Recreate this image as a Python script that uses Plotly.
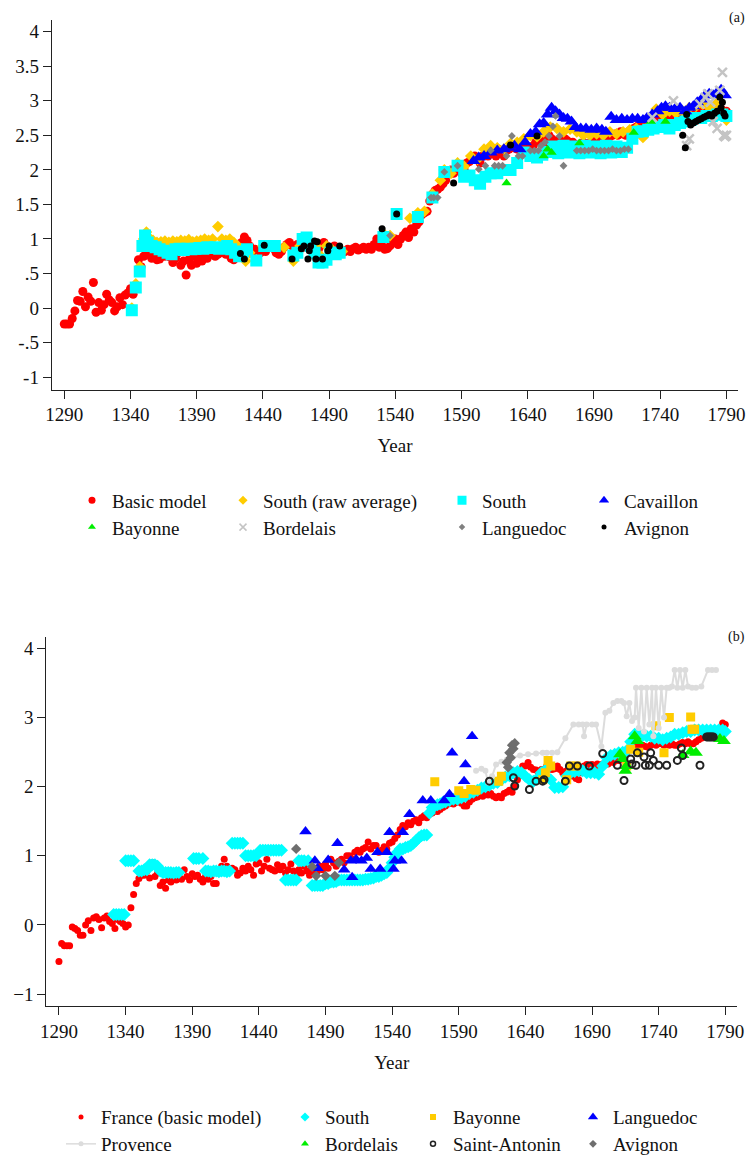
import plotly.graph_objects as go

FONT = "Liberation Serif, Times New Roman, serif"
W, H = 751, 1163
TXT = "#111111"

# ======================= Panel (a) data =======================
basic_a_start = 1290  # one value every 2 years
basic_a_vals = [
    -0.23, -0.23, -0.23, -0.15, -0.04,
    0.11, 0.10, 0.24, 0.02, 0.16,
    0.10, 0.37, -0.06, 0.08, -0.03,
    0.05, 0.20, 0.12, 0.08, -0.04,
    0.02, 0.15, 0.05, 0.19, 0.22,
    0.28, 0.20, 0.30, 0.70, 0.60,
    0.75, 0.78, 0.80, 0.72, 0.76,
    0.70, 0.71, 0.80, 0.75, 0.78,
    0.74, 0.66, 0.72, 0.80, 0.62,
    0.68, 0.48, 0.70, 0.62, 0.75,
    0.65, 0.72, 0.68, 0.75, 0.72,
    0.78, 0.80, 0.75, 0.78, 0.80,
    0.82, 0.78, 0.80, 0.72, 0.70,
    0.78, 0.85, 0.95, 1.03, 0.98,
    0.90, 0.82, 0.85, 0.78, 0.80,
    0.85, 0.82, 0.88, 0.90, 0.86,
    0.80, 0.78, 0.82, 0.88, 0.92,
    0.95, 0.90, 0.88, 0.92, 0.85,
    0.90, 0.88, 0.92, 0.86, 0.84,
    0.88, 0.85, 0.92, 0.95, 0.90,
    0.88, 0.85, 0.90, 0.82, 0.85,
    0.80, 0.82, 0.85, 0.82, 0.86,
    0.88, 0.84, 0.86, 0.88, 0.85,
    0.88, 0.85, 0.92, 1.00, 0.88,
    0.90, 0.85, 0.86, 0.90, 0.95,
    1.00, 0.92, 1.00, 1.05, 1.10,
    1.02, 1.15, 1.10, 1.20, 1.25,
    1.35, 1.38, 1.40, 1.55, 1.65,
    1.70, 1.72, 1.75, 1.80, 1.85,
    1.95, 2.00, 1.95, 2.00, 2.05,
    1.95, 2.00, 2.10, 2.12, 2.15,
    2.20, 2.15, 2.10, 2.20, 2.25,
    2.20, 2.30, 2.25, 2.20, 2.30,
    2.25, 2.20, 2.28, 2.30, 2.35,
    2.32, 2.30, 2.30, 2.38, 2.35,
    2.30, 2.28, 2.35, 2.40, 2.42,
    2.40, 2.38, 2.45, 2.50, 2.45,
    2.40, 2.42, 2.38, 2.40, 2.45,
    2.42, 2.38, 2.40, 2.36, 2.35,
    2.38, 2.40, 2.35, 2.38, 2.40,
    2.42, 2.45, 2.42, 2.40, 2.45,
    2.50, 2.48, 2.50, 2.52, 2.50,
    2.55, 2.52, 2.50, 2.55, 2.58,
    2.60, 2.62, 2.65, 2.70, 2.72,
    2.68, 2.70, 2.72, 2.75, 2.70,
    2.72, 2.75, 2.78, 2.75, 2.72,
    2.75, 2.78, 2.80, 2.78, 2.75,
    2.72, 2.75, 2.78, 2.80, 2.78,
    2.82, 2.85, 2.88, 2.85, 2.82,
    2.85, 2.88, 2.90, 2.88, 2.85,
    2.85,
]

south_raw_a = [
    (1341, 0.00), (1344, 0.35), (1347, 0.60), (1350, 1.00), (1352, 1.10), (1354, 1.02),
    (1357, 0.98), (1360, 0.95), (1363, 0.96), (1366, 0.97), (1369, 0.95), (1372, 0.97),
    (1375, 0.96), (1378, 0.98), (1381, 0.97), (1384, 0.99), (1387, 0.96), (1390, 0.97),
    (1393, 0.98), (1396, 1.00), (1399, 0.98), (1402, 1.00), (1406, 1.18), (1409, 1.00),
    (1412, 0.98), (1415, 1.00), (1418, 0.95), (1421, 0.90), (1424, 0.85), (1427, 0.68),
    (1430, 0.80), (1435, 0.70), (1440, 0.90), (1449, 0.90), (1456, 0.88), (1463, 0.68),
    (1468, 0.90), (1471, 1.00), (1475, 0.95), (1480, 0.90), (1484, 0.75), (1488, 0.90),
    (1492, 0.85), (1496, 0.80), (1500, 0.82), (1531, 1.08), (1536, 1.05), (1541, 1.36),
    (1551, 1.30), (1557, 1.38), (1562, 1.40), (1568, 1.65), (1574, 1.85), (1577, 2.00),
    (1582, 1.95), (1587, 2.10), (1592, 2.05), (1597, 2.20), (1602, 2.15), (1607, 2.30),
    (1612, 2.35), (1617, 2.32), (1622, 2.30), (1627, 2.38), (1632, 2.40), (1637, 2.45),
    (1642, 2.50), (1647, 2.48), (1652, 2.55), (1657, 2.62), (1662, 2.60), (1667, 2.55),
    (1672, 2.59), (1677, 2.55), (1682, 2.50), (1687, 2.50), (1692, 2.52), (1697, 2.50),
    (1702, 2.55), (1707, 2.52), (1712, 2.55), (1717, 2.58), (1722, 2.60), (1727, 2.47),
    (1732, 2.70), (1737, 2.88), (1742, 2.80), (1747, 2.85), (1752, 2.82), (1757, 2.85),
    (1762, 2.90), (1767, 2.92), (1772, 2.95), (1777, 2.90), (1782, 2.95), (1787, 2.85),
    (1790, 2.72),
]

south_a = [
    (1341, -0.03), (1344, 0.30), (1347, 0.53), (1349, 0.90), (1351, 1.05), (1353, 0.95),
    (1356, 0.90), (1359, 0.88), (1362, 0.85), (1365, 0.83), (1368, 0.80), (1371, 0.78),
    (1374, 0.85), (1377, 0.86), (1380, 0.84), (1383, 0.86), (1386, 0.85), (1389, 0.86),
    (1392, 0.87), (1395, 0.86), (1398, 0.88), (1401, 0.87), (1404, 0.88), (1407, 0.86),
    (1410, 0.87), (1413, 0.90), (1416, 0.85), (1419, 0.80), (1422, 0.75), (1425, 0.82),
    (1428, 0.85), (1435, 0.69), (1441, 0.90), (1449, 0.90), (1463, 0.76), (1466, 0.80),
    (1470, 1.00), (1473, 1.02), (1476, 0.90), (1479, 0.80), (1482, 0.66), (1485, 0.66),
    (1488, 0.70), (1491, 0.80), (1495, 0.78), (1498, 0.80), (1531, 1.03), (1541, 1.36),
    (1557, 1.32), (1568, 1.60), (1577, 1.97), (1587, 2.06), (1592, 1.90), (1596, 1.92),
    (1600, 1.85), (1604, 1.80), (1608, 1.90), (1612, 1.95), (1617, 1.95), (1622, 2.00),
    (1627, 2.00), (1632, 2.10), (1637, 2.25), (1642, 2.20), (1647, 2.18), (1651, 2.22),
    (1655, 2.26), (1659, 2.34), (1663, 2.24), (1667, 2.35), (1671, 2.25), (1675, 2.34),
    (1679, 2.24), (1683, 2.35), (1687, 2.25), (1691, 2.34), (1695, 2.24), (1699, 2.35),
    (1703, 2.25), (1707, 2.34), (1711, 2.26), (1715, 2.32), (1719, 2.45), (1723, 2.55),
    (1727, 2.56), (1731, 2.58), (1735, 2.60), (1739, 2.62), (1743, 2.65), (1747, 2.60),
    (1751, 2.65), (1755, 2.68), (1759, 2.70), (1763, 2.72), (1767, 2.75), (1771, 2.75),
    (1775, 2.78), (1779, 2.78), (1783, 2.80), (1787, 2.80), (1790, 2.78),
]

cavaillon_a = [
    (1599, 2.13), (1603, 2.18), (1607, 2.20), (1612, 2.25), (1617, 2.28), (1622, 2.30),
    (1626, 2.32), (1630, 2.35), (1634, 2.30), (1638, 2.40), (1642, 2.52), (1646, 2.55),
    (1649, 2.66), (1652, 2.68), (1655, 2.80), (1658, 2.90), (1661, 2.85), (1664, 2.80),
    (1667, 2.75), (1670, 2.74), (1673, 2.70), (1676, 2.62), (1680, 2.60), (1684, 2.60),
    (1688, 2.58), (1692, 2.60), (1696, 2.58), (1699, 2.55), (1703, 2.77), (1707, 2.72),
    (1711, 2.74), (1715, 2.72), (1719, 2.74), (1723, 2.74), (1727, 2.72), (1730, 2.75),
    (1734, 2.80), (1738, 2.85), (1741, 2.90), (1744, 2.92), (1747, 2.90), (1751, 2.88),
    (1755, 2.90), (1759, 2.85), (1762, 2.90), (1765, 2.92), (1768, 2.98), (1771, 3.02),
    (1774, 3.08), (1777, 3.10), (1780, 3.08), (1783, 3.12), (1786, 3.16), (1789, 3.08),
]

bayonne_a = [
    (1624, 1.81), (1652, 2.20), (1655, 2.30), (1658, 2.25), (1679, 2.39),
    (1720, 2.54), (1733, 2.70), (1744, 2.70),
]

bordelais_a = [
    (1734, 2.76), (1750, 3.00), (1760, 2.35), (1762, 2.45), (1770, 2.95), (1774, 3.05),
    (1776, 3.10), (1778, 2.98), (1780, 2.70), (1783, 2.60), (1785, 3.15), (1787, 3.41),
    (1788, 2.50), (1789, 2.48), (1790, 2.50),
]

languedoc_a = [
    (1536, 1.05), (1567, 1.60), (1569, 1.60), (1572, 1.60), (1577, 1.97), (1587, 2.06),
    (1603, 2.01), (1608, 2.06), (1612, 2.28), (1615, 2.06), (1618, 2.06), (1621, 2.06),
    (1624, 2.20), (1628, 2.49), (1633, 2.20), (1636, 2.20), (1642, 2.28), (1645, 2.28),
    (1648, 2.28), (1650, 2.35), (1653, 2.40), (1656, 2.49), (1659, 2.63), (1661, 2.78),
    (1664, 2.49), (1667, 2.06), (1677, 2.28), (1680, 2.28), (1683, 2.28), (1686, 2.28),
    (1689, 2.30), (1692, 2.28), (1695, 2.28), (1698, 2.28), (1701, 2.28), (1704, 2.30),
    (1707, 2.28), (1710, 2.28), (1713, 2.30), (1716, 2.30),
]

avignon_a = [
    (1423, 0.79), (1426, 0.71), (1441, 0.91), (1462, 0.71), (1469, 0.86), (1471, 0.90),
    (1474, 0.71), (1475, 0.83), (1476, 0.90), (1479, 0.97), (1480, 0.71), (1481, 0.96),
    (1485, 0.71), (1489, 0.83), (1490, 0.90), (1498, 0.90), (1530, 1.15), (1541, 1.36),
    (1584, 1.81), (1627, 2.36), (1647, 2.49), (1757, 2.50), (1759, 2.32), (1760, 2.80),
    (1761, 2.70), (1763, 2.65), (1765, 2.68), (1767, 2.70), (1769, 2.72), (1771, 2.74),
    (1773, 2.76), (1775, 2.78), (1777, 2.80), (1779, 2.78), (1781, 2.82), (1783, 2.85),
    (1785, 3.05), (1786, 2.90), (1787, 2.98), (1788, 2.82), (1789, 2.78),
]

# ======================= Panel (b) data =======================
france_b_start = 1290  # one value every 2 years
france_b_vals = [
    -0.53, -0.27, -0.30, -0.30, -0.30,
    -0.03, -0.05, -0.08, -0.15, -0.15,
    0.00, 0.06, -0.08, 0.10, 0.12,
    0.08, -0.04, 0.10, 0.13, 0.05,
    0.02, -0.05, 0.08, 0.05, 0.02,
    -0.03, 0.00, 0.25, 0.44, 0.60,
    0.67, 0.72, 0.72, 0.78, 0.68,
    0.90, 0.70, 0.75, 0.57, 0.62,
    0.53, 0.65, 0.62, 0.70, 0.65,
    0.72, 0.66, 0.80, 0.70, 0.65,
    0.74, 0.70, 0.72, 0.66, 0.62,
    0.70, 0.66, 0.70, 0.60, 0.60,
    0.75, 0.85, 0.95, 0.85, 0.78,
    0.82, 0.80, 0.72, 0.75, 0.82,
    0.78, 0.85, 0.80, 0.72, 0.88,
    0.90, 0.78, 0.85, 0.95, 0.82,
    0.80, 0.78, 0.87, 0.80, 0.85,
    0.75, 0.80, 0.88, 0.78, 0.72,
    0.80, 0.75, 0.85, 0.78, 0.72,
    0.75, 0.82, 0.78, 0.85, 0.80,
    0.88, 0.82, 0.95, 0.90, 0.85,
    0.92, 0.95, 0.90, 1.00, 1.00,
    0.95, 1.05, 1.08, 1.05, 1.10,
    1.12, 1.20, 1.10, 1.15, 1.15,
    1.05, 1.08, 1.13, 1.10, 1.18,
    1.20, 1.25, 1.30, 1.38, 1.44,
    1.42, 1.48, 1.45, 1.50, 1.52,
    1.48, 1.55, 1.58, 1.55, 1.60,
    1.62, 1.65, 1.64, 1.67, 1.70,
    1.72, 1.75, 1.78, 1.75, 1.77,
    1.80, 1.76, 1.72, 1.72, 1.78,
    1.82, 1.84, 1.85, 1.88, 1.86,
    1.90, 1.88, 1.90, 1.86, 1.84,
    1.86, 1.84, 1.90, 1.92, 1.95,
    1.92, 2.00, 2.10, 2.16, 2.30,
    2.30, 2.35, 2.28, 2.25, 2.24,
    2.20, 2.25, 2.22, 2.30, 2.28,
    2.25, 2.26, 2.30, 2.25, 2.20,
    2.22, 2.25, 2.20, 2.15, 2.12,
    2.10, 2.20, 2.30, 2.32, 2.30,
    2.32, 2.30, 2.33, 2.30, 2.33,
    2.35, 2.33, 2.36, 2.35, 2.38,
    2.38, 2.40, 2.45, 2.50, 2.55,
    2.58, 2.62, 2.60, 2.58, 2.60,
    2.58, 2.57, 2.60, 2.62, 2.60,
    2.62, 2.62, 2.60, 2.62, 2.60,
    2.62, 2.60, 2.60, 2.62, 2.64,
    2.62, 2.65, 2.62, 2.62, 2.65,
    2.68, 2.70, 2.72, 2.72, 2.75,
    2.75, 2.78, 2.80, 2.82, 2.92,
    2.90,
]

south_b = [
    (1331, 0.15), (1333, 0.15), (1335, 0.15), (1337, 0.15), (1339, 0.15),
    (1340, 0.93), (1342, 0.93), (1344, 0.93), (1346, 0.93),
    (1350, 0.78), (1352, 0.78), (1354, 0.80), (1356, 0.80),
    (1358, 0.87), (1360, 0.87), (1362, 0.87), (1364, 0.85),
    (1366, 0.78), (1368, 0.76), (1370, 0.76), (1372, 0.76), (1374, 0.76), (1376, 0.75),
    (1378, 0.76), (1380, 0.76),
    (1391, 0.96), (1393, 0.96), (1395, 0.96), (1398, 0.96),
    (1400, 0.78), (1402, 0.78), (1404, 0.77), (1406, 0.78), (1408, 0.78), (1410, 0.77),
    (1412, 0.78), (1414, 0.78), (1416, 0.77), (1418, 0.78),
    (1420, 1.18), (1422, 1.18), (1424, 1.18), (1426, 1.18), (1428, 1.18),
    (1430, 1.00), (1432, 1.00), (1434, 1.00), (1436, 1.00), (1438, 1.00),
    (1441, 1.08), (1443, 1.08), (1445, 1.08), (1447, 1.08), (1449, 1.08), (1451, 1.08),
    (1453, 1.08), (1455, 1.08), (1457, 1.08),
    (1460, 0.65), (1462, 0.65), (1464, 0.65), (1466, 0.65), (1468, 0.65),
    (1470, 0.93), (1472, 0.93), (1474, 0.93), (1477, 0.93),
    (1480, 0.57), (1482, 0.57), (1484, 0.57), (1486, 0.57), (1488, 0.57),
    (1490, 0.60), (1492, 0.60), (1494, 0.62), (1496, 0.62), (1498, 0.63), (1500, 0.65),
    (1502, 0.65), (1504, 0.65), (1506, 0.65), (1508, 0.65), (1510, 0.65), (1512, 0.65),
    (1514, 0.65), (1516, 0.65), (1518, 0.65), (1520, 0.66), (1522, 0.66), (1524, 0.67),
    (1526, 0.68), (1528, 0.70),
    (1530, 0.70), (1532, 0.72), (1534, 0.74), (1536, 0.76), (1538, 0.82), (1540, 0.90),
    (1542, 0.98), (1544, 1.05), (1546, 1.10), (1548, 1.10), (1550, 1.12), (1552, 1.13),
    (1554, 1.15), (1556, 1.18), (1558, 1.22), (1560, 1.26), (1562, 1.29), (1564, 1.30),
    (1566, 1.30),
    (1568, 1.62), (1570, 1.70), (1572, 1.72), (1574, 1.74), (1576, 1.75), (1578, 1.77),
    (1580, 1.78),
    (1583, 1.80), (1586, 1.82), (1589, 1.82), (1592, 1.84), (1595, 1.86), (1598, 1.90),
    (1601, 1.92), (1604, 1.95), (1607, 1.98), (1610, 2.00),
    (1613, 2.02), (1616, 2.05), (1619, 2.06), (1622, 2.10), (1625, 2.14), (1628, 2.16),
    (1631, 2.20), (1634, 2.22),
    (1637, 2.20), (1640, 2.15), (1643, 2.10), (1646, 2.08), (1649, 2.12), (1652, 2.20),
    (1656, 2.26), (1659, 2.10), (1662, 1.99), (1665, 1.99), (1668, 2.00), (1671, 2.15),
    (1674, 2.20), (1677, 2.22), (1680, 2.23), (1683, 2.23), (1686, 2.20), (1689, 2.20),
    (1692, 2.20), (1695, 2.18), (1698, 2.30),
    (1701, 2.42), (1704, 2.45), (1707, 2.47), (1710, 2.49), (1713, 2.50), (1716, 2.52),
    (1719, 2.65), (1722, 2.76), (1725, 2.75), (1728, 2.74), (1731, 2.73), (1734, 2.73),
    (1737, 2.70), (1740, 2.70), (1743, 2.68), (1746, 2.70), (1749, 2.72), (1752, 2.76),
    (1755, 2.76), (1758, 2.78), (1761, 2.80), (1764, 2.80), (1767, 2.82), (1770, 2.82),
    (1773, 2.82), (1776, 2.82), (1779, 2.82), (1782, 2.82), (1785, 2.82), (1788, 2.82),
    (1790, 2.80),
]

bayonne_b = [
    (1572, 2.07), (1590, 1.94), (1594, 1.90), (1599, 1.96), (1603, 1.95), (1620, 2.08),
    (1622, 2.15), (1653, 2.10), (1655, 2.20), (1657, 2.38), (1659, 2.30), (1671, 2.10),
    (1674, 2.30), (1678, 2.30), (1716, 2.30), (1719, 2.54), (1725, 2.50), (1738, 2.88),
    (1744, 2.49), (1748, 3.00), (1764, 3.01), (1765, 2.83), (1767, 2.83),
]

languedoc_b = [
    (1475, 1.35), (1482, 0.93), (1484, 0.82), (1492, 0.94), (1499, 1.18), (1504, 0.80),
    (1509, 0.93), (1510, 0.69), (1513, 0.95), (1517, 0.93), (1521, 0.97), (1524, 0.81),
    (1529, 1.05), (1531, 0.81), (1536, 1.05), (1538, 1.34), (1541, 0.81), (1542, 0.93),
    (1547, 0.93), (1548, 1.34), (1553, 1.60), (1563, 1.80), (1569, 1.80), (1579, 1.80),
    (1583, 1.89), (1585, 2.49), (1594, 2.08), (1595, 2.32), (1600, 2.73),
]

provence_b = [
    (1603, 2.23), (1607, 2.26), (1610, 2.23), (1612, 2.06), (1615, 2.15), (1618, 2.32),
    (1622, 2.36), (1626, 2.39), (1630, 2.42), (1636, 2.45), (1642, 2.47), (1648, 2.48),
    (1653, 2.49), (1656, 2.49), (1660, 2.49), (1664, 2.50), (1670, 2.70), (1676, 2.90),
    (1680, 2.90), (1683, 2.90), (1684, 2.73), (1686, 2.90), (1690, 2.90), (1693, 2.90),
    (1697, 2.58), (1700, 3.07), (1703, 3.10), (1706, 3.21), (1709, 3.24), (1712, 3.24),
    (1714, 3.21), (1716, 3.02), (1718, 3.21), (1720, 2.95), (1722, 3.00), (1723, 3.43),
    (1725, 2.85), (1727, 3.43), (1729, 2.80), (1731, 3.43), (1733, 2.90), (1735, 3.43),
    (1736, 2.73), (1738, 3.43), (1740, 2.85), (1742, 3.43), (1744, 3.00), (1746, 3.43),
    (1748, 3.43), (1750, 3.45), (1752, 3.69), (1754, 3.43), (1756, 3.69), (1758, 3.43),
    (1760, 3.69), (1762, 3.45), (1765, 3.43), (1768, 3.43), (1772, 3.45), (1777, 3.69),
    (1780, 3.69), (1783, 3.69),
]

bordelais_b = [
    (1711, 2.47), (1713, 2.40), (1715, 2.23), (1716, 2.30), (1722, 2.73), (1724, 2.66),
    (1758, 2.46), (1764, 2.51), (1768, 2.49), (1786, 2.69), (1789, 2.66),
]

saint_antonin_b = [
    (1613, 2.08), (1631, 2.13), (1632, 2.01), (1643, 1.96), (1648, 2.08), (1653, 2.08),
    (1654, 2.10), (1670, 2.08), (1673, 2.30), (1679, 2.30), (1688, 2.30), (1698, 2.48),
    (1709, 2.31), (1714, 2.09), (1719, 2.40), (1720, 2.33), (1723, 2.31), (1724, 2.49),
    (1729, 2.43), (1730, 2.31), (1733, 2.31), (1734, 2.49), (1736, 2.38), (1740, 2.31),
    (1746, 2.31), (1754, 2.38), (1757, 2.56), (1758, 2.45), (1771, 2.31), (1776, 2.72),
    (1777, 2.72), (1778, 2.72), (1779, 2.72), (1780, 2.72), (1781, 2.72),
]

avignon_b = [
    (1468, 1.10), (1480, 0.84), (1483, 0.71), (1490, 0.71), (1497, 0.71), (1500, 0.90),
    (1626, 2.35), (1627, 2.28), (1628, 2.49), (1629, 2.42), (1630, 2.60), (1631, 2.55),
    (1632, 2.63),
]

# ======================= helpers =======================
def xs(pairs):
    return [p[0] for p in pairs]


def ys(pairs):
    return [p[1] for p in pairs]


def yearly(start, vals):
    return list(range(start, start + 2 * len(vals), 2))


def fx(px):          # page pixel -> paper x
    return px / W


def fy(py):          # page pixel -> paper y
    return 1 - py / H


fig = go.Figure()


def add(x, y, ax, color, symbol, size, mode="markers", line=None, mline=None):
    kw = dict(x=x, y=y, mode=mode, showlegend=False, hoverinfo="skip",
              xaxis="x" if ax == 1 else "x2", yaxis="y" if ax == 1 else "y2")
    mk = dict(color=color, symbol=symbol, size=size)
    if mline:
        mk["line"] = mline
    kw["marker"] = mk
    if line:
        kw["line"] = line
    fig.add_trace(go.Scatter(**kw))


# ---- panel (a) marks
add(yearly(basic_a_start, basic_a_vals), basic_a_vals, 1, "#ff0000", "circle", 9)
add(xs(south_raw_a), ys(south_raw_a), 1, "#ffcc00", "diamond", 9)
add(xs(south_a), ys(south_a), 1, "#00ffff", "square", 12)
add(xs(cavaillon_a), ys(cavaillon_a), 1, "#0000ff", "triangle-up", 12)
add(xs(bayonne_a), ys(bayonne_a), 1, "#00ee00", "triangle-up", 9)
add(xs(bordelais_a), ys(bordelais_a), 1, "#c4c4c4", "x-thin", 9,
    mline=dict(color="#c4c4c4", width=2.5))
add(xs(languedoc_a), ys(languedoc_a), 1, "#808080", "diamond", 6)
add(xs(avignon_a), ys(avignon_a), 1, "#000000", "circle", 7)

# ---- panel (b) marks
add(yearly(france_b_start, france_b_vals), france_b_vals, 2, "#ff0000", "circle", 7)
add(xs(south_b), ys(south_b), 2, "#00ffff", "diamond", 10)
add(xs(bayonne_b), ys(bayonne_b), 2, "#ffcc00", "square", 9)
add(xs(languedoc_b), ys(languedoc_b), 2, "#0000ff", "triangle-up", 11)
add(xs(provence_b), ys(provence_b), 2, "#dcdcdc", "circle", 6, mode="lines+markers",
    line=dict(color="#dcdcdc", width=2))
add(xs(bordelais_b), ys(bordelais_b), 2, "#00ee00", "triangle-up", 12)
add(xs(saint_antonin_b), ys(saint_antonin_b), 2, "#222222", "circle-open", 7,
    mline=dict(color="#222222", width=2))
add(xs(avignon_b), ys(avignon_b), 2, "#6e6e6e", "diamond", 8)

# ======================= legends =======================
legend_a = [
    ("Basic model", "#ff0000", "circle", 7, None, "markers"),
    ("South (raw average)", "#ffcc00", "diamond", 7, None, "markers"),
    ("South", "#00ffff", "square", 9, None, "markers"),
    ("Cavaillon", "#0000ff", "triangle-up", 9, None, "markers"),
    ("Bayonne", "#00ee00", "triangle-up", 7, None, "markers"),
    ("Bordelais", "#c4c4c4", "x-thin", 7, dict(color="#c4c4c4", width=1.5), "markers"),
    ("Languedoc", "#808080", "diamond", 5, None, "markers"),
    ("Avignon", "#000000", "circle", 5, None, "markers"),
]
legend_b = [
    ("France (basic model)", "#ff0000", "circle", 5, None, "markers"),
    ("South", "#00ffff", "diamond", 7, None, "markers"),
    ("Bayonne", "#ffcc00", "square", 6, None, "markers"),
    ("Languedoc", "#0000ff", "triangle-up", 9, None, "markers"),
    ("Provence", "#dcdcdc", "circle", 5, None, "lines+markers"),
    ("Bordelais", "#00ee00", "triangle-up", 7, None, "markers"),
    ("Saint-Antonin", "#222222", "circle-open", 5, dict(color="#222222", width=1.5), "markers"),
    ("Avignon", "#6e6e6e", "diamond", 6, None, "markers"),
]

# page-pixel x where each legend column's text begins, and row centres
cols_a = [112, 263, 482, 624]
rows_a = [503, 530]
cols_b = [101, 325, 453, 613]
rows_b = [1123, 1150]

layout_legends = {}
k = 0
for entries, cols, rows in ((legend_a, cols_a, rows_a), (legend_b, cols_b, rows_b)):
    for i, (name, col, sym, sz, ml, mode) in enumerate(entries):
        k += 1
        lname = "legend" if k == 1 else "legend%d" % k
        mk = dict(color=col, symbol=sym, size=sz)
        if ml:
            mk["line"] = ml
        tr = dict(x=[None], y=[None], mode=mode, name=name, marker=mk,
                  showlegend=True, legend=lname, hoverinfo="skip")
        if mode == "lines+markers":
            tr["line"] = dict(color=col, width=1.5)
        fig.add_trace(go.Scatter(**tr))
        r, c = divmod(i, 4)
        layout_legends[lname] = dict(
            x=fx(cols[c] - 40), y=fy(rows[r]), xanchor="left", yanchor="middle",
            bgcolor="rgba(0,0,0,0)", borderwidth=0, orientation="v",
            font=dict(family=FONT, size=19, color=TXT), itemwidth=30,
            itemclick=False, itemdoubleclick=False,
        )

# ======================= axes =======================
axis_common = dict(showline=True, linecolor="#222222", linewidth=1, ticks="outside",
                   ticklen=8, tickwidth=1, tickcolor="#222222", showgrid=False,
                   zeroline=False, mirror=False, automargin=False,
                   tickfont=dict(family=FONT, size=19, color=TXT))

xticks = [1290, 1340, 1390, 1440, 1490, 1540, 1590, 1640, 1690, 1740, 1790]
yticks_a = [-1, -0.5, 0, 0.5, 1, 1.5, 2, 2.5, 3, 3.5, 4]
yticks_a_text = ["-1", "-.5", "0", ".5", "1", "1.5", "2", "2.5", "3", "3.5", "4"]
yticks_b = [-1, 0, 1, 2, 3, 4]

fig.update_layout(
    template="none",
    width=W, height=H, margin=dict(l=0, r=0, t=0, b=0, pad=0),
    paper_bgcolor="white", plot_bgcolor="white",
    font=dict(family=FONT, size=19, color=TXT),
    hovermode=False,
    xaxis=dict(domain=[fx(51.7), fx(738.3)], range=[1280.5, 1799], anchor="y",
               tickvals=xticks, title=dict(text="Year", standoff=14,
                                           font=dict(family=FONT, size=19, color=TXT)),
               **axis_common),
    yaxis=dict(domain=[fy(391.7), fy(20)], range=[-1.18, 4.17], anchor="x",
               tickvals=yticks_a, ticktext=yticks_a_text, **axis_common),
    xaxis2=dict(domain=[fx(46.3), fx(737.3)], range=[1280.5, 1799], anchor="y2",
                tickvals=xticks, title=dict(text="Year", standoff=14,
                                            font=dict(family=FONT, size=19, color=TXT)),
                **axis_common),
    yaxis2=dict(domain=[fy(1011.7), fy(640)], range=[-1.18, 4.17], anchor="x2",
                tickvals=yticks_b, **axis_common),
    annotations=[
        dict(text="(a)", xref="paper", yref="paper", x=fx(747), y=fy(18),
             xanchor="right", yanchor="middle", showarrow=False,
             font=dict(family=FONT, size=14, color=TXT)),
        dict(text="(b)", xref="paper", yref="paper", x=fx(747), y=fy(640),
             xanchor="right", yanchor="middle", showarrow=False,
             font=dict(family=FONT, size=14, color=TXT)),
    ],
    **layout_legends,
)

# let the figure sit flush in the page (no default body margin / scrollbars)
fig.write_html(
    "out.html",
    config={"displayModeBar": False, "staticPlot": True},
    post_script="document.body.style.margin='0';document.body.style.overflow='hidden';",
)
